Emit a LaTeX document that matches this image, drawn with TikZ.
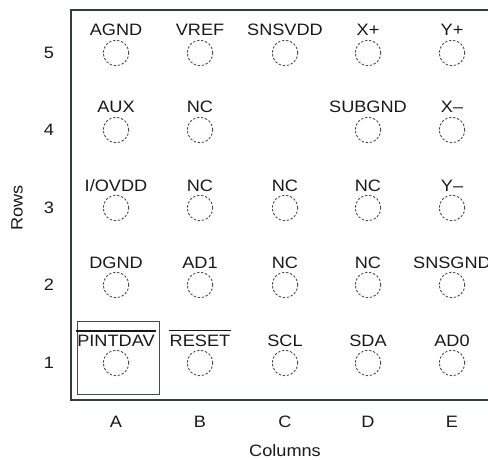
\documentclass[tikz,border=0pt]{standalone}
\usepackage{fontspec}
\setmainfont[FakeStretch=1.1]{Liberation Sans}
\usepackage{tikz}

\newcommand{\activelow}[1]{\setbox0\hbox{#1}\rlap{\hspace{-1pt}\rule[\dimexpr\ht0+3pt\relax]{\dimexpr\wd0+2pt\relax}{1.5pt}}\box0}

\definecolor{framegray}{RGB}{52,60,60}

\tikzset{
    ball/.style={circle, draw=black!75, dash pattern=on 2.4pt off 1.7pt, line width=0.8pt, minimum size=25.5pt, inner sep=0pt},
    pinname/.style={anchor=base, inner sep=0pt, text=black!90, font=\fontsize{16.5}{18}\selectfont},
    axislabel/.style={inner sep=0pt, text=black!90, font=\fontsize{16.5}{18}\selectfont},
}

\begin{document}
\begin{tikzpicture}[x=1pt, y=-1pt]

\useasboundingbox (0,0) rectangle (488,460);

\coordinate (colA) at (116,0);
\coordinate (colB) at (200,0);
\coordinate (colC) at (285,0);
\coordinate (colD) at (368,0);
\coordinate (colE) at (452,0);

\coordinate (row5) at (0,53);
\coordinate (row4) at (0,130);
\coordinate (row3) at (0,208);
\coordinate (row2) at (0,285);
\coordinate (row1) at (0,363);

\draw [line width=2.2pt, color=framegray] (488,10) -| (71,400) -- (488,400);

\draw [line width=0.8pt, color=black!70] (77,321) rectangle (159,394);

\foreach \c/\r/\name in {A/5/AGND, B/5/VREF, C/5/SNSVDD, D/5/X+, E/5/Y+,
                         A/4/AUX, B/4/NC, D/4/SUBGND, E/4/X\textendash,
                         A/3/{I/OVDD}, B/3/NC, C/3/NC, D/3/NC, E/3/Y\textendash,
                         A/2/DGND, B/2/AD1, C/2/NC, D/2/NC, E/2/SNSGND,
                         A/1/\activelow{PINTDAV}, B/1/\activelow{RESET}, C/1/SCL, D/1/SDA, E/1/AD0}
{
    \node [ball] (\c\r) at (col\c |- row\r) {};
    \node [pinname] (name\c\r) at ([yshift=17pt]\c\r.center) {\name};
}

\foreach \r in {1,...,5}
    \node [axislabel] (rownum\r) at (49,0 |- row\r) {\r};

\foreach \c in {A,B,C,D,E}
    \node [axislabel] (colname\c) at (col\c |- 0,421.5) {\c};

\node [axislabel] (columns) at (colC |- 0,451) {Columns};
\node [axislabel, rotate=90] (rows) at (17,0 |- row3) {Rows};

\end{tikzpicture}
\end{document}
